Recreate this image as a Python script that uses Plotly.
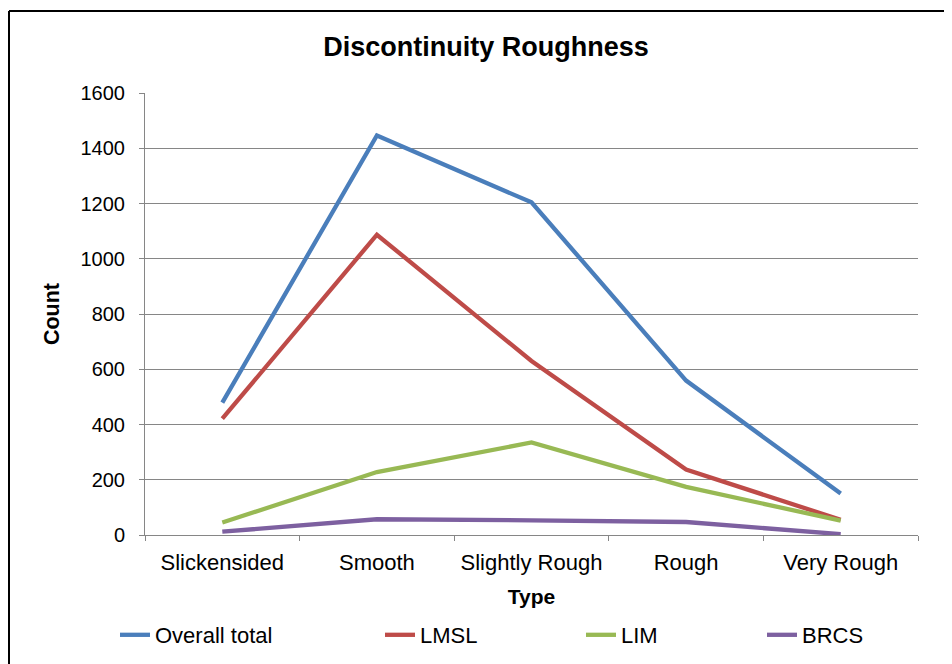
import plotly.graph_objects as go

# ==========================================================
# DATA
# ==========================================================
categories = ["Slickensided", "Smooth", "Slightly Rough", "Rough", "Very Rough"]

overall_total = [479, 1446, 1204, 559, 150]
lmsl = [421, 1087, 630, 237, 55]
lim = [45, 228, 335, 174, 52]
brcs = [12, 57, 53, 47, 3]

series_names = ["Overall total", "LMSL", "LIM", "BRCS"]
series_values = [overall_total, lmsl, lim, brcs]
series_colors = ["#4A7EBB", "#BE4B48", "#98B954", "#7D60A0"]

# ==========================================================
# PIXEL GEOMETRY
# the page body adds an 8px margin, so the figure is drawn smaller
# and every target pixel position is shifted by that offset
# ==========================================================
OFF = 8
W, H = 952 - OFF, 664 - OFF
L, R, T, B = 145 - OFF, 918 - OFF, 93 - OFF, 535 - OFF   # plot area edges
PW, PH = R - L, B - T


def px_x(p):
    return (p - OFF - L) / PW


def px_y(p):
    return (B - (p - OFF)) / PH


FONT = "Liberation Sans, Arial, sans-serif"
GRID = "#868686"

fig = go.Figure()

legend_ids = ["legend", "legend2", "legend3", "legend4"]
legend_left_px = [115, 380, 581, 762]

for name, vals, col, lg in zip(series_names, series_values, series_colors, legend_ids):
    fig.add_trace(
        go.Scatter(
            x=categories, y=vals,
            mode="lines",
            line=dict(color=col, width=4.3),
            name=name,
            legend=lg,
        )
    )

# -------------------------------
# LEGENDS (one per entry so spacing matches)
# -------------------------------
legend_layout = {}
for lg, lx in zip(legend_ids, legend_left_px):
    legend_layout[lg] = dict(
        x=px_x(lx), y=px_y(635),
        xanchor="left", yanchor="middle",
        orientation="h",
        bgcolor="rgba(0,0,0,0)",
        font=dict(family=FONT, size=22, color="black"),
        itemwidth=30,
    )

# -------------------------------
# LAYOUT
# -------------------------------
fig.update_layout(
    width=W, height=H,
    margin=dict(l=L, r=W - R, t=T, b=H - B, autoexpand=False),
    paper_bgcolor="white",
    plot_bgcolor="white",
    font=dict(family=FONT, size=21, color="black"),
    title=dict(
        text="<b>Discontinuity Roughness</b>",
        x=(486 - OFF) / W, xanchor="center",
        y=1 - (47 - OFF) / H, yanchor="middle",
        font=dict(family=FONT, size=27, color="black"),
    ),
    showlegend=True,
    **legend_layout,
)

fig.update_xaxes(
    type="category",
    range=[-0.5, len(categories) - 0.5],
    automargin=False,
    showgrid=False,
    showline=True, linecolor=GRID, linewidth=1,
    ticks="outside", ticklen=5, tickcolor=GRID, tickson="boundaries",
    tickfont=dict(family=FONT, size=22, color="black"),
    ticklabelstandoff=8,
    title=dict(text="<b>Type</b>", standoff=14,
               font=dict(family=FONT, size=21, color="black")),
)

fig.update_yaxes(
    range=[0, 1600], dtick=200,
    automargin=False,
    showgrid=True, gridcolor=GRID, gridwidth=1,
    showline=True, linecolor=GRID, linewidth=1,
    ticks="outside", ticklen=5, tickcolor=GRID,
    zeroline=False,
    tickfont=dict(family=FONT, size=20, color="black"),
    ticklabelstandoff=10,
    title=dict(text="<b>Count</b>", standoff=14,
               font=dict(family=FONT, size=21.5, color="black")),
)

# outer chart border: only its top and left edges fall inside the view
border = dict(type="line", xref="paper", yref="paper",
              line=dict(color="black", width=2), layer="below")
fig.add_shape(x0=px_x(9), x1=px_x(1000), y0=px_y(11), y1=px_y(11), **border)
fig.add_shape(x0=px_x(9), x1=px_x(9), y0=px_y(11), y1=px_y(700), **border)

fig.write_html("out.html")
